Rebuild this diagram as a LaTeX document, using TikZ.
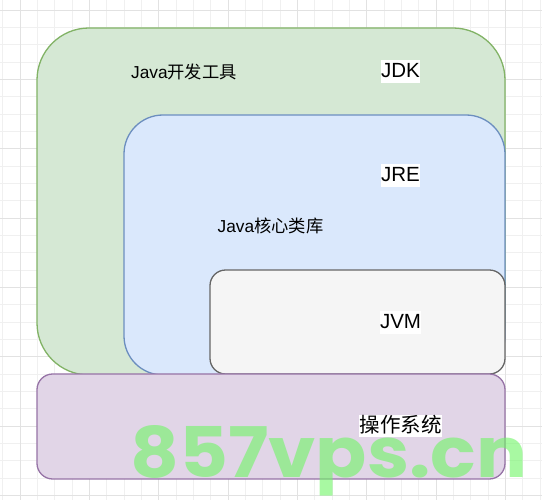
\documentclass[tikz,border=0pt]{standalone}
\usepackage{fontspec}
\setmainfont{Liberation Sans}
\newfontfamily\cjk{Noto Sans CJK SC}
\newfontfamily\wmfont{Poppins}
\definecolor{jdkfill}{HTML}{D5E8D4}
\definecolor{jdkline}{HTML}{82B366}
\definecolor{jrefill}{HTML}{DAE8FC}
\definecolor{jreline}{HTML}{6C8EBF}
\definecolor{jvmfill}{HTML}{F5F5F5}
\definecolor{jvmline}{HTML}{666666}
\definecolor{osfill}{HTML}{E1D5E7}
\definecolor{osline}{HTML}{9673A6}
\definecolor{minorgrid}{HTML}{F0F0F0}
\definecolor{majorgrid}{HTML}{E2E2E2}
\definecolor{wmgreen}{RGB}{110,245,100}
\tikzset{
  boxstyle/.style={draw, line width=1.3pt, anchor=north west, inner sep=0pt, outer sep=0pt},
  lab/.style={fill=white, inner xsep=0.3pt, inner ysep=0pt, text height=17.5pt, text depth=5pt, font=\fontsize{20.5pt}{24pt}\selectfont},
  plainlab/.style={inner sep=0pt, font=\fontsize{17.3pt}{20pt}\selectfont},
  mingrid/.style={draw=minorgrid, line width=0.8pt},
  majgrid/.style={draw=majorgrid, line width=0.9pt}
}
\begin{document}
\begin{tikzpicture}[x=1pt,y=-1pt]
\useasboundingbox (0,0) rectangle (542,500);
\fill[white] (0,0) rectangle (542,500);
% grid
\foreach \i in {0,...,31} { \draw[mingrid] ({2.67+17.333*\i},0) -- ({2.67+17.333*\i},500); }
\foreach \i in {0,...,28} { \draw[mingrid] (0,{10+17.333*\i}) -- (542,{10+17.333*\i}); }
\foreach \i in {0,...,7} { \draw[majgrid] ({20+69.333*\i},0) -- ({20+69.333*\i},500); }
\foreach \i in {0,...,7} { \draw[majgrid] (0,{10+69.333*\i}) -- (542,{10+69.333*\i}); }
% boxes
\node (jdk) [boxstyle, fill=jdkfill, draw=jdkline, rounded corners=52pt, minimum width=468pt, minimum height=347pt] at (37,28) {};
\node (jre) [boxstyle, fill=jrefill, draw=jreline, rounded corners=39pt, minimum width=381pt, minimum height=260pt] at (124,115) {};
\node (jvm) [boxstyle, fill=jvmfill, draw=jvmline, rounded corners=15.6pt, minimum width=295pt, minimum height=104pt] at (210,270) {};
\node (os) [boxstyle, fill=osfill, draw=osline, rounded corners=15.7pt, minimum width=468pt, minimum height=105pt] at (37,374) {};
% labels
\node (jdklabel) [lab] at (400.5,71.5) {JDK};
\node (jrelabel) [lab] at (400.5,175.5) {JRE};
\node (jvmlabel) [lab] at (400.5,322.5) {JVM};
\node (oslabel) [lab] at (400.5,426) {\cjk 操作系统};
\node (devtools) [plainlab] at (184,71.5) {Java{\cjk 开发工具}};
\node (corelib) [plainlab] at (270.5,226) {Java{\cjk 核心类库}};
% watermark
\node (watermark) [anchor=base west, inner sep=0pt, text=wmgreen, text opacity=0.6] at (130,477) {\resizebox{397pt}{52pt}{\wmfont\bfseries 857vps.cn}};
\end{tikzpicture}
\end{document}
